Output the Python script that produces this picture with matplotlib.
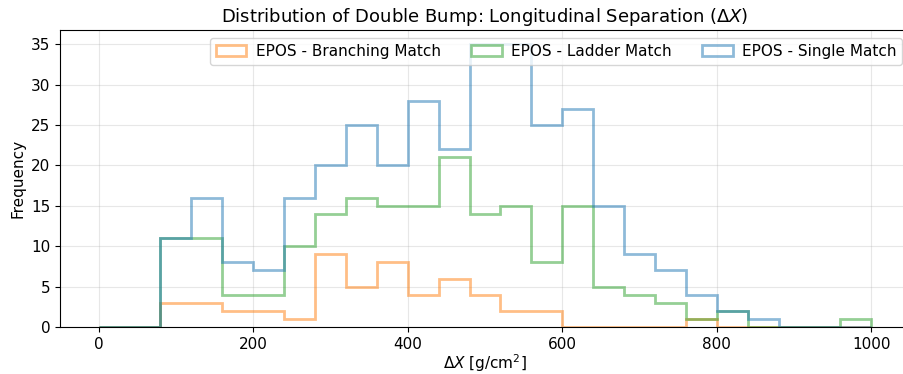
import numpy as np
import matplotlib.pyplot as plt

# bin edges in g/cm^2 (width 40)
bin_edges = np.arange(0, 1001, 40)
bin_centers = (bin_edges[:-1] + bin_edges[1:]) / 2

# counts per bin
branching_counts = [0, 0, 3, 3, 2, 2, 1, 9, 5, 8, 4, 6, 4, 2, 2, 0, 0, 0, 0, 1, 0, 0, 0, 0, 0]
ladder_counts = [0, 0, 11, 11, 4, 4, 10, 14, 16, 15, 15, 21, 14, 15, 8, 15, 5, 4, 3, 1, 2, 0, 0, 0, 1]
single_counts = [0, 0, 11, 16, 8, 7, 16, 20, 25, 20, 28, 22, 35, 35, 25, 27, 15, 9, 7, 4, 2, 1, 0, 0, 0]

labels = ["EPOS - Branching Match", "EPOS - Ladder Match", "EPOS - Single Match"]
colors = ["tab:orange", "tab:green", "tab:blue"]

fig = plt.figure(figsize=(9.04, 3.74), dpi=100)
ax = fig.add_axes([60 / 904, 47 / 374, 850 / 904, 297 / 374])

for counts, lab, col in zip([branching_counts, ladder_counts, single_counts], labels, colors):
    ax.hist(bin_centers, bins=bin_edges, weights=counts, histtype="step",
            linewidth=2, alpha=0.5, color=col, label=lab)

ax.set_title(r"Distribution of Double Bump: Longitudinal Separation ($\Delta X$)", fontsize=13)
ax.set_xlabel(r"$\Delta X$ [g/cm$^2$]", fontsize=11, labelpad=0.5)
ax.set_ylabel("Frequency", fontsize=11)
ax.tick_params(labelsize=11)
ax.set_xlim(-50, 1050)
ax.grid(True, alpha=0.3)
ax.legend(ncol=3, loc="upper right", fontsize=11, handletextpad=0.6)

fig.savefig("out.png", dpi=100)
